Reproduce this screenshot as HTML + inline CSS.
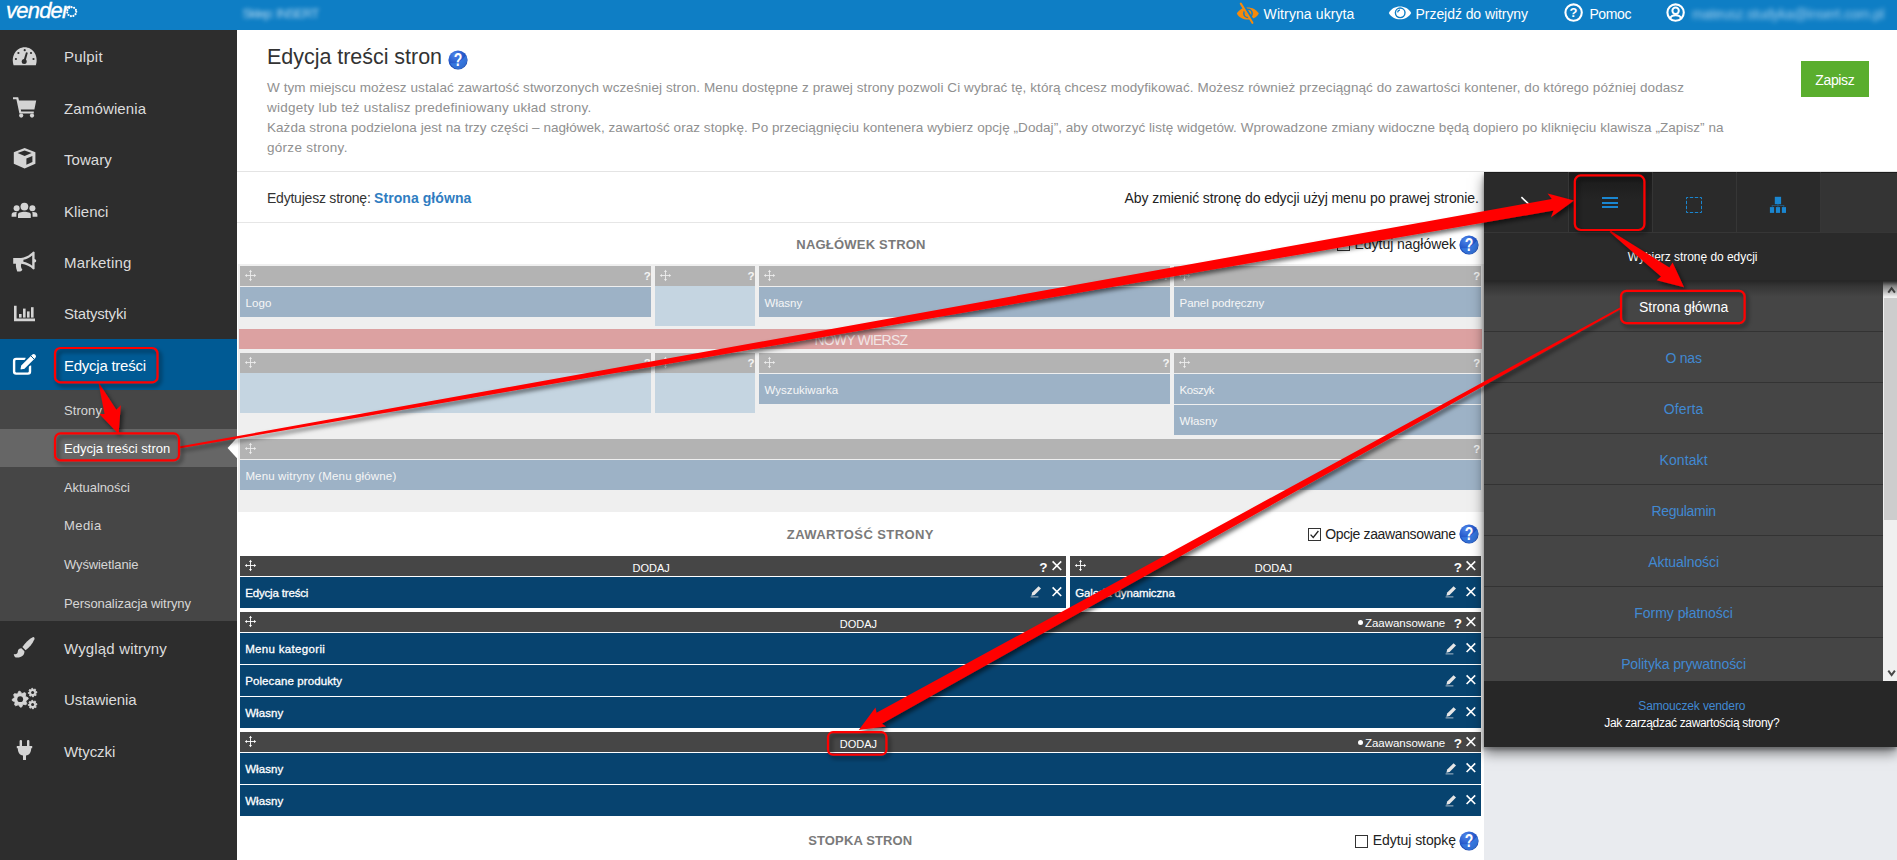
<!DOCTYPE html>
<html lang="pl"><head><meta charset="utf-8"><title>Edycja treści stron - vendero</title>
<style>
html,body{margin:0;padding:0;}
body{width:1897px;height:860px;overflow:hidden;position:relative;background:#fff;font-family:"Liberation Sans", sans-serif;}
.t{position:absolute;white-space:nowrap;line-height:1em;}
.r{position:absolute;}
svg{position:absolute;overflow:visible;}
.sb{-webkit-text-stroke:0.3px #fff;}
</style></head><body>

<div class="r" style="left:1484px;top:172px;width:413.00px;height:688.00px;background:#e9ebef;"></div>
<div class="r" style="left:237px;top:30px;width:1660.00px;height:141.00px;background:#fff;border-bottom:1px solid #e4e4e4;"></div>
<div class="r" style="left:0px;top:0px;width:1897.00px;height:30.00px;background:#0e7ec5;"></div>
<span class="t" style="top:-0.32px;font-size:22px;color:#fff;letter-spacing:-0.8px;font-style:italic;left:6.1px;-webkit-text-stroke:0.35px #fff;">vender</span>
<svg style="left:64px;top:4px" width="16" height="16" viewBox="0 0 16 16"><circle cx="7.7" cy="7.7" r="4.55" fill="none" stroke="#fff" stroke-width="2.15" stroke-linecap="round" stroke-dasharray="0 2.599"/></svg>
<span class="t" style="top:7.40px;font-size:13px;color:#d4e9f7;letter-spacing:-0.861px;left:242.5px;filter:blur(2.2px);opacity:.8;">Sklep: INSERT</span>
<svg style="left:1236px;top:2px" width="24" height="22" viewBox="0 0 24 22">
<path d="M0.8 11.6 C5 3.4 18.4 3.4 22.8 11.6 C18.4 19.6 5 19.6 0.8 11.6 Z" fill="#f58a0b"/>
<circle cx="12" cy="11.4" r="4.9" fill="#0e7ec5"/><circle cx="12" cy="11.4" r="3.4" fill="#f58a0b"/><path d="M9.8 11 A2.4 2.4 0 0 1 11.8 8.9" fill="none" stroke="#0e7ec5" stroke-width="1.1"/>
<path d="M6.6 2.4 L17.8 21" stroke="#0e7ec5" stroke-width="3.6" /><path d="M4.8 1.6 L16.4 20.8" stroke="#f58a0b" stroke-width="2.1" stroke-linecap="round"/></svg>
<span class="t" style="top:7.15px;font-size:14px;color:#fff;letter-spacing:0.102px;left:1263.6px;">Witryna ukryta</span>
<svg style="left:1388px;top:5px" width="24" height="16" viewBox="0 0 24 16">
<path d="M0.8 8 C5.2 -0.6 18.8 -0.6 23.2 8 C18.8 16.4 5.2 16.4 0.8 8 Z" fill="#fff"/>
<circle cx="12.2" cy="7.8" r="5.5" fill="#0e7ec5"/><circle cx="12.2" cy="7.8" r="4.1" fill="#fff"/><path d="M9.6 7.4 A2.9 2.9 0 0 1 12 4.8" fill="none" stroke="#0e7ec5" stroke-width="1.3"/></svg>
<span class="t" style="top:7.15px;font-size:14px;color:#fff;letter-spacing:-0.066px;left:1415.6px;">Przejdź do witryny</span>
<svg style="left:1564px;top:3px" width="20" height="20" viewBox="0 0 20 20"><circle cx="9.6" cy="9.6" r="8.2" fill="none" stroke="#fff" stroke-width="2.1"/>
<text x="9.6" y="14.2" text-anchor="middle" font-family='"Liberation Sans",sans-serif' font-weight="700" font-size="13" fill="#fff">?</text></svg>
<span class="t" style="top:7.15px;font-size:14px;color:#fff;letter-spacing:-0.356px;left:1589.4px;">Pomoc</span>
<svg style="left:1666px;top:3px" width="20" height="20" viewBox="0 0 20 20"><circle cx="9.6" cy="9.6" r="8.2" fill="none" stroke="#fff" stroke-width="2.1"/>
<circle cx="9.6" cy="7.7" r="3.2" fill="none" stroke="#fff" stroke-width="2"/><path d="M4.2 15.4 C5.4 11.2 13.8 11.2 15 15.4" fill="none" stroke="#fff" stroke-width="2.1"/></svg>
<span class="t" style="top:7.15px;font-size:14px;color:#c6e3f6;letter-spacing:-0.228px;left:1692px;filter:blur(2.5px);opacity:.8;">mateusz.studyka@insert.com.pl</span>
<div class="r" style="left:0px;top:30px;width:237.00px;height:830.00px;background:#2d2d2d;"></div>
<div class="r" style="left:0px;top:339px;width:237.00px;height:51.00px;background:#005a94;"></div>
<div class="r" style="left:0px;top:390px;width:237.00px;height:230.50px;background:#464646;"></div>
<div class="r" style="left:0px;top:428.8px;width:237.00px;height:38.20px;background:#666;"></div>
<svg style="left:226px;top:436px" width="12" height="24" viewBox="0 0 12 24"><path d="M11.2 1.6 L1.6 12 L11.2 22.4 Z" fill="#fff"/></svg>
<span class="t" style="top:49.30px;font-size:15px;color:#dcdcdc;letter-spacing:0.211px;left:64px;">Pulpit</span>
<span class="t" style="top:100.73px;font-size:15px;color:#dcdcdc;letter-spacing:0.142px;left:64px;">Zamówienia</span>
<span class="t" style="top:152.16px;font-size:15px;color:#dcdcdc;letter-spacing:0.047px;left:64px;">Towary</span>
<span class="t" style="top:203.59px;font-size:15px;color:#dcdcdc;letter-spacing:0.045px;left:64px;">Klienci</span>
<span class="t" style="top:255.02px;font-size:15px;color:#dcdcdc;letter-spacing:0.182px;left:64px;">Marketing</span>
<span class="t" style="top:306.45px;font-size:15px;color:#dcdcdc;letter-spacing:-0.179px;left:64px;">Statystyki</span>
<span class="t" style="top:357.88px;font-size:15px;color:#fff;letter-spacing:-0.249px;left:64px;">Edycja treści</span>
<span class="t" style="top:640.80px;font-size:15px;color:#dcdcdc;letter-spacing:0.162px;left:64px;">Wygląd witryny</span>
<span class="t" style="top:692.23px;font-size:15px;color:#dcdcdc;letter-spacing:-0.097px;left:64px;">Ustawienia</span>
<span class="t" style="top:743.66px;font-size:15px;color:#dcdcdc;letter-spacing:-0.053px;left:64px;">Wtyczki</span>
<span class="t" style="top:403.60px;font-size:13px;color:#d6d6d6;letter-spacing:0.07px;left:64px;">Strony</span>
<span class="t" style="top:442.20px;font-size:13px;color:#fff;left:64px;">Edycja treści stron</span>
<span class="t" style="top:480.80px;font-size:13px;color:#d6d6d6;letter-spacing:-0.071px;left:64px;">Aktualności</span>
<span class="t" style="top:519.40px;font-size:13px;color:#d6d6d6;letter-spacing:0.436px;left:64px;">Media</span>
<span class="t" style="top:558.00px;font-size:13px;color:#d6d6d6;letter-spacing:-0.112px;left:64px;">Wyświetlanie</span>
<span class="t" style="top:596.60px;font-size:13px;color:#d6d6d6;letter-spacing:-0.078px;left:64px;">Personalizacja witryny</span>
<svg style="left:12px;top:46px" width="26" height="20" viewBox="0 0 26 20"><path d="M1.6 19.2 C-1.5 10 4.5 1.2 12.7 1.2 C20.9 1.2 26.9 10 23.8 19.2 Z" fill="#d4d4d4"/>
<g fill="#2d2d2d"><circle cx="12.7" cy="4.2" r="1.1"/><circle cx="6.4" cy="7" r="1.1"/><circle cx="19" cy="7" r="1.1"/><circle cx="3.9" cy="13" r="1.1"/><circle cx="21.5" cy="13" r="1.1"/><circle cx="12.2" cy="15.4" r="2.5"/><path d="M14 6.2 L15.8 6.8 L13.5 15.2 L11.5 14.6 Z"/></g></svg>
<svg style="left:12px;top:96px" width="26" height="23" viewBox="0 0 26 23"><g fill="#d4d4d4"><path d="M1 1.2 H6.2 L7 4.4 H24.2 L22.4 13.6 H8.8 L9.2 15.4 H21.8 V17.4 H7.4 L4.4 3.2 H1 Z"/><circle cx="9.2" cy="19.6" r="2.1"/><circle cx="20" cy="19.6" r="2.1"/></g></svg>
<svg style="left:13px;top:147px" width="24" height="23" viewBox="0 0 24 23"><path d="M11.6 1 L22.4 5.2 V16.8 L11.6 21.6 L0.8 16.8 V5.2 Z" fill="#d4d4d4"/>
<path d="M11.6 3.4 L18.6 6 L11.6 9 L4.6 6 Z" fill="#2d2d2d"/><path d="M13.4 11.6 L19.4 9 V15 L13.4 17.8 Z" fill="#2d2d2d"/></svg>
<svg style="left:11px;top:202px" width="28" height="17" viewBox="0 0 28 17"><g fill="#d4d4d4"><circle cx="13.4" cy="4.6" r="3.9"/><circle cx="5.6" cy="6.3" r="3"/><circle cx="21.4" cy="6.3" r="3"/>
<path d="M7 16 V12.4 C7 8.8 19.8 8.8 19.8 12.4 V16 Z"/><path d="M0.6 14.8 V12.6 C0.6 10.4 3 9.8 5.8 10 C5.4 11 5.4 12 5.4 14.8 Z"/><path d="M26.4 14.8 V12.6 C26.4 10.4 24 9.8 21.2 10 C21.6 11 21.6 12 21.6 14.8 Z"/></g></svg>
<svg style="left:12px;top:250px" width="26" height="24" viewBox="0 0 26 24"><g fill="#d4d4d4"><path d="M1.2 8 H9 C14 7.4 18.4 4.6 21.2 1.6 L22.6 2 V9 C23.6 9.2 24.2 10 24.2 10.8 C24.2 11.8 23.6 12.4 22.6 12.6 V19 L21.2 19.4 C18.4 16.6 14 14.2 9.4 13.8 C8.6 15.4 8.8 17.6 10.4 19.8 C9.6 21.6 7.2 21.8 5.2 21.4 C4.4 19 3.6 16.6 4 13.8 H1.2 Z"/></g>
<path d="M20.2 5.4 C17.6 7.6 14.6 9.2 11.4 9.8 V11.8 C14.6 12.4 17.6 13.8 20.2 15.8 Z" fill="#2d2d2d"/></svg>
<svg style="left:13px;top:305px" width="24" height="18" viewBox="0 0 24 18"><g fill="#d4d4d4"><path d="M1 0.8 H3.6 V13.6 H22 V16.2 H1 Z"/><rect x="6" y="9" width="2.6" height="3.6"/><rect x="10" y="3.6" width="2.6" height="9"/><rect x="14" y="6.4" width="2.6" height="6.2"/><rect x="18" y="2.2" width="2.6" height="10.4"/></g></svg>
<svg style="left:12px;top:353px" width="26" height="23" viewBox="0 0 26 23"><path d="M13.6 5.9 H4.1 Q2.1 5.9 2.1 7.9 V18.6 Q2.1 20.6 4.1 20.6 H16 Q18 20.6 18 18.6 V12.4" fill="none" stroke="#fff" stroke-width="2.4"/>
<path d="M7.4 17.6 L8.4 12.2 L19.5 1.1 A3.1 3.1 0 0 1 23.9 5.5 L12.8 16.6 Z" fill="#fff" stroke="#005a94" stroke-width="1.7" stroke-linejoin="round"/>
<path d="M18.3 2.3 L22.7 6.7" stroke="#005a94" stroke-width="1"/></svg>
<svg style="left:13px;top:636px" width="23" height="23" viewBox="0 0 23 23"><g fill="#d4d4d4"><path d="M20.2 1 C21.4 1.2 21.8 2.2 21.4 3.2 C19.6 7.6 16.2 11.6 12.6 14.2 L9.4 11 C12.2 7.2 16 3 20.2 1 Z"/>
<path d="M8.4 12.2 L11.4 15.2 C11.8 19.4 7.6 22.2 2.8 21.4 C1.6 21 1 19.6 0.8 18 C3.4 18.6 4.6 17.6 4.8 15.4 C5 13.4 6.6 12.2 8.4 12.2 Z"/></g></svg>
<svg style="left:11px;top:687px" width="28" height="24" viewBox="0 0 28 24"><polygon points="17.07,10.76 17.20,12.07 15.01,13.71 14.87,14.17 15.78,16.75 14.95,17.77 12.23,17.38 11.82,17.60 10.64,20.07 9.33,20.20 7.69,18.01 7.23,17.87 4.65,18.78 3.63,17.95 4.02,15.23 3.80,14.82 1.33,13.64 1.20,12.33 3.39,10.69 3.53,10.23 2.62,7.65 3.45,6.63 6.17,7.02 6.58,6.80 7.76,4.33 9.07,4.20 10.71,6.39 11.17,6.53 13.75,5.62 14.77,6.45 14.38,9.17 14.60,9.58" fill="#d4d4d4" stroke="#d4d4d4" stroke-width="0.8" stroke-linejoin="round"/><circle cx="9.2" cy="12.2" r="2.9" fill="#2d2d2d"/><polygon points="25.93,4.81 26.00,5.53 24.70,6.41 24.62,6.65 25.22,8.10 24.76,8.66 23.22,8.36 23.00,8.48 22.39,9.93 21.67,10.00 20.79,8.70 20.55,8.62 19.10,9.22 18.54,8.76 18.84,7.22 18.72,7.00 17.27,6.39 17.20,5.67 18.50,4.79 18.58,4.55 17.98,3.10 18.44,2.54 19.98,2.84 20.20,2.72 20.81,1.27 21.53,1.20 22.41,2.50 22.65,2.58 24.10,1.98 24.66,2.44 24.36,3.98 24.48,4.20" fill="#d4d4d4" stroke="#d4d4d4" stroke-width="0.8" stroke-linejoin="round"/><circle cx="21.6" cy="5.6" r="1.5" fill="#2d2d2d"/><polygon points="25.93,16.81 26.00,17.53 24.70,18.41 24.62,18.65 25.22,20.10 24.76,20.66 23.22,20.36 23.00,20.48 22.39,21.93 21.67,22.00 20.79,20.70 20.55,20.62 19.10,21.22 18.54,20.76 18.84,19.22 18.72,19.00 17.27,18.39 17.20,17.67 18.50,16.79 18.58,16.55 17.98,15.10 18.44,14.54 19.98,14.84 20.20,14.72 20.81,13.27 21.53,13.20 22.41,14.50 22.65,14.58 24.10,13.98 24.66,14.44 24.36,15.98 24.48,16.20" fill="#d4d4d4" stroke="#d4d4d4" stroke-width="0.8" stroke-linejoin="round"/><circle cx="21.6" cy="17.6" r="1.5" fill="#2d2d2d"/></svg>
<svg style="left:16px;top:739px" width="18" height="22" viewBox="0 0 18 22"><g fill="#d4d4d4"><rect x="3.6" y="1" width="2.4" height="7" rx="1"/><rect x="11" y="1" width="2.4" height="7" rx="1"/>
<path d="M0.8 7 H16.2 V9.2 H15.2 C15.2 13.4 13.4 16 10 16.6 V21 H7 V16.6 C3.6 16 1.8 13.4 1.8 9.2 H0.8 Z"/></g></svg>
<span class="t" style="top:47.40px;font-size:21.5px;color:#333;letter-spacing:-0.035px;left:267px;">Edycja treści stron</span>
<svg style="left:447.5px;top:50.4px" width="20" height="20" viewBox="0 0 20 20"><defs><radialGradient id="hg1" cx="35%" cy="25%" r="85%"><stop offset="0" stop-color="#4f86ea"/><stop offset="0.55" stop-color="#2356c8"/><stop offset="1" stop-color="#163b9c"/></radialGradient></defs>
<circle cx="10" cy="10" r="9.6" fill="url(#hg1)"/><path d="M2.2 13.1 C7.6 14.3 14.2 11.3 18 5.3 C20.4 9.3 19.2 15.7 13.6 18.6 C9.2 20.3 4.2 18.1 2.2 13.1 Z" fill="#4a97f5" opacity="0.5"/>
<text transform="translate(10.1 16.3) scale(0.8 1)" x="0" y="0" text-anchor="middle" font-family='"Liberation Sans",sans-serif' font-weight="700" font-size="17.5" fill="#fff">?</text></svg>
<span class="t" style="top:80.67px;font-size:13.5px;color:#909090;letter-spacing:0.083px;left:267px;">W tym miejscu możesz ustalać zawartość stworzonych wcześniej stron. Menu dostępne z prawej strony pozwoli Ci wybrać tę, którą chcesz modyfikować. Możesz również przeciągnąć do zawartości kontener, do którego później dodasz</span>
<span class="t" style="top:100.70px;font-size:13.5px;color:#909090;letter-spacing:0.237px;left:267px;">widgety lub też ustalisz predefiniowany układ strony.</span>
<span class="t" style="top:120.73px;font-size:13.5px;color:#909090;letter-spacing:0.055px;left:267px;">Każda strona podzielona jest na trzy części – nagłówek, zawartość oraz stopkę. Po przeciągnięciu kontenera wybierz opcję „Dodaj”, aby otworzyć listę widgetów. Wprowadzone zmiany widoczne będą dopiero po kliknięciu klawisza „Zapisz” na</span>
<span class="t" style="top:140.76px;font-size:13.5px;color:#909090;letter-spacing:0.281px;left:267px;">górze strony.</span>
<div class="r" style="left:1801px;top:61px;width:67.50px;height:36.00px;background:#5aae2e;"></div>
<span class="t" style="top:73.15px;font-size:14px;color:#fff;letter-spacing:-0.372px;left:1534.8px;width:600px;text-align:center;">Zapisz</span>
<div class="r" style="left:237px;top:221.5px;width:1247.00px;height:1.00px;background:#e6e6e6;"></div>
<span class="t" style="top:191.35px;font-size:14px;color:#333;letter-spacing:-0.223px;left:267px;">Edytujesz stronę:</span>
<span class="t" style="top:191.35px;font-size:14px;color:#2f7dc1;font-weight:700;letter-spacing:0.073px;left:374px;">Strona główna</span>
<span class="t" style="top:191.35px;font-size:14px;color:#222;letter-spacing:-0.093px;right:418.20000000000005px;">Aby zmienić stronę do edycji użyj menu po prawej stronie.</span>
<span class="t" style="top:237.50px;font-size:13px;color:#7a7a7a;font-weight:700;letter-spacing:0.215px;left:561px;width:600px;text-align:center;">NAGŁÓWEK STRON</span>
<div class="r" style="left:1337px;top:238px;width:11px;height:11px;border:1px solid #333;background:#fff"></div>
<span class="t" style="top:237.35px;font-size:14px;color:#222;letter-spacing:-0.03px;left:1354.5px;">Edytuj nagłówek</span>
<svg style="left:1458.5px;top:234.5px" width="20" height="20" viewBox="0 0 20 20"><defs><radialGradient id="hg2" cx="35%" cy="25%" r="85%"><stop offset="0" stop-color="#4f86ea"/><stop offset="0.55" stop-color="#2356c8"/><stop offset="1" stop-color="#163b9c"/></radialGradient></defs>
<circle cx="10" cy="10" r="9.6" fill="url(#hg2)"/><path d="M2.2 13.1 C7.6 14.3 14.2 11.3 18 5.3 C20.4 9.3 19.2 15.7 13.6 18.6 C9.2 20.3 4.2 18.1 2.2 13.1 Z" fill="#4a97f5" opacity="0.5"/>
<text transform="translate(10.1 16.3) scale(0.8 1)" x="0" y="0" text-anchor="middle" font-family='"Liberation Sans",sans-serif' font-weight="700" font-size="17.5" fill="#fff">?</text></svg>
<div class="r" style="left:238px;top:264px;width:1246.00px;height:248.00px;background:#efefef;"></div>
<div class="r" style="left:240px;top:266px;width:411.30px;height:19.80px;background:#b3b3b3;"></div>
<svg style="left:243.9px;top:268.79999999999995px" width="13" height="13" viewBox="0 0 13 13"><g stroke="#ececec" stroke-width="0.9" fill="#ececec"><path d="M6.5 2 V11 M2 6.5 H11" fill="none"/><path d="M6.5 0.8 L8 3 H5 Z M6.5 12.2 L8 10 H5 Z M0.8 6.5 L3 5 V8 Z M12.2 6.5 L10 5 V8 Z" stroke="none"/></g></svg>
<span class="t" style="top:270.77px;font-size:11.5px;color:#f3f3f3;font-weight:700;right:1246.3000000000002px;">?</span>
<div class="r" style="left:655.4px;top:266px;width:99.80px;height:19.80px;background:#b3b3b3;"></div>
<svg style="left:659.3px;top:268.79999999999995px" width="13" height="13" viewBox="0 0 13 13"><g stroke="#ececec" stroke-width="0.9" fill="#ececec"><path d="M6.5 2 V11 M2 6.5 H11" fill="none"/><path d="M6.5 0.8 L8 3 H5 Z M6.5 12.2 L8 10 H5 Z M0.8 6.5 L3 5 V8 Z M12.2 6.5 L10 5 V8 Z" stroke="none"/></g></svg>
<span class="t" style="top:270.77px;font-size:11.5px;color:#f3f3f3;font-weight:700;right:1142.4px;">?</span>
<div class="r" style="left:759.2px;top:266px;width:411.00px;height:19.80px;background:#b3b3b3;"></div>
<svg style="left:763.1px;top:268.79999999999995px" width="13" height="13" viewBox="0 0 13 13"><g stroke="#ececec" stroke-width="0.9" fill="#ececec"><path d="M6.5 2 V11 M2 6.5 H11" fill="none"/><path d="M6.5 0.8 L8 3 H5 Z M6.5 12.2 L8 10 H5 Z M0.8 6.5 L3 5 V8 Z M12.2 6.5 L10 5 V8 Z" stroke="none"/></g></svg>
<span class="t" style="top:270.77px;font-size:11.5px;color:#f3f3f3;font-weight:700;right:727.3999999999999px;">?</span>
<div class="r" style="left:1174.2px;top:266px;width:306.60px;height:19.80px;background:#b3b3b3;"></div>
<svg style="left:1178.1000000000001px;top:268.79999999999995px" width="13" height="13" viewBox="0 0 13 13"><g stroke="#ececec" stroke-width="0.9" fill="#ececec"><path d="M6.5 2 V11 M2 6.5 H11" fill="none"/><path d="M6.5 0.8 L8 3 H5 Z M6.5 12.2 L8 10 H5 Z M0.8 6.5 L3 5 V8 Z M12.2 6.5 L10 5 V8 Z" stroke="none"/></g></svg>
<span class="t" style="top:270.77px;font-size:11.5px;color:#f3f3f3;font-weight:700;right:416.79999999999995px;">?</span>
<div class="r" style="left:240px;top:287.2px;width:411.30px;height:29.70px;background:#9db2c6;"></div>
<span class="t" style="top:297.92px;font-size:11.5px;color:#f6f6f6;letter-spacing:0.152px;left:245.4px;">Logo</span>
<div class="r" style="left:655.4px;top:285.8px;width:99.80px;height:39.80px;background:#c5d5e1;"></div>
<div class="r" style="left:759.2px;top:287.2px;width:411.00px;height:29.70px;background:#9db2c6;"></div>
<span class="t" style="top:297.92px;font-size:11.5px;color:#f6f6f6;letter-spacing:-0.017px;left:764.6px;">Własny</span>
<div class="r" style="left:1174.2px;top:287.2px;width:306.60px;height:29.70px;background:#9db2c6;"></div>
<span class="t" style="top:297.92px;font-size:11.5px;color:#f6f6f6;letter-spacing:-0.078px;left:1179.6000000000001px;">Panel podręczny</span>
<div class="r" style="left:239px;top:329px;width:1243.00px;height:20.00px;background:#dca1a1;"></div>
<span class="t" style="top:332.75px;font-size:14px;color:#f1e6e6;letter-spacing:-0.804px;left:560.8px;width:600px;text-align:center;">NOWY WIERSZ</span>
<div class="r" style="left:240px;top:353px;width:411.30px;height:19.80px;background:#b3b3b3;"></div>
<svg style="left:243.9px;top:355.79999999999995px" width="13" height="13" viewBox="0 0 13 13"><g stroke="#ececec" stroke-width="0.9" fill="#ececec"><path d="M6.5 2 V11 M2 6.5 H11" fill="none"/><path d="M6.5 0.8 L8 3 H5 Z M6.5 12.2 L8 10 H5 Z M0.8 6.5 L3 5 V8 Z M12.2 6.5 L10 5 V8 Z" stroke="none"/></g></svg>
<span class="t" style="top:357.77px;font-size:11.5px;color:#f3f3f3;font-weight:700;right:1246.3000000000002px;">?</span>
<div class="r" style="left:655.4px;top:353px;width:99.80px;height:19.80px;background:#b3b3b3;"></div>
<svg style="left:659.3px;top:355.79999999999995px" width="13" height="13" viewBox="0 0 13 13"><g stroke="#ececec" stroke-width="0.9" fill="#ececec"><path d="M6.5 2 V11 M2 6.5 H11" fill="none"/><path d="M6.5 0.8 L8 3 H5 Z M6.5 12.2 L8 10 H5 Z M0.8 6.5 L3 5 V8 Z M12.2 6.5 L10 5 V8 Z" stroke="none"/></g></svg>
<span class="t" style="top:357.77px;font-size:11.5px;color:#f3f3f3;font-weight:700;right:1142.4px;">?</span>
<div class="r" style="left:759.2px;top:353px;width:411.00px;height:19.80px;background:#b3b3b3;"></div>
<svg style="left:763.1px;top:355.79999999999995px" width="13" height="13" viewBox="0 0 13 13"><g stroke="#ececec" stroke-width="0.9" fill="#ececec"><path d="M6.5 2 V11 M2 6.5 H11" fill="none"/><path d="M6.5 0.8 L8 3 H5 Z M6.5 12.2 L8 10 H5 Z M0.8 6.5 L3 5 V8 Z M12.2 6.5 L10 5 V8 Z" stroke="none"/></g></svg>
<span class="t" style="top:357.77px;font-size:11.5px;color:#f3f3f3;font-weight:700;right:727.3999999999999px;">?</span>
<div class="r" style="left:1174.2px;top:353px;width:306.60px;height:19.80px;background:#b3b3b3;"></div>
<svg style="left:1178.1000000000001px;top:355.79999999999995px" width="13" height="13" viewBox="0 0 13 13"><g stroke="#ececec" stroke-width="0.9" fill="#ececec"><path d="M6.5 2 V11 M2 6.5 H11" fill="none"/><path d="M6.5 0.8 L8 3 H5 Z M6.5 12.2 L8 10 H5 Z M0.8 6.5 L3 5 V8 Z M12.2 6.5 L10 5 V8 Z" stroke="none"/></g></svg>
<span class="t" style="top:357.77px;font-size:11.5px;color:#f3f3f3;font-weight:700;right:416.79999999999995px;">?</span>
<div class="r" style="left:240px;top:372.8px;width:411.30px;height:40.20px;background:#c5d5e1;"></div>
<div class="r" style="left:655.4px;top:372.8px;width:99.80px;height:40.20px;background:#c5d5e1;"></div>
<div class="r" style="left:759.2px;top:374.3px;width:411.00px;height:29.70px;background:#9db2c6;"></div>
<span class="t" style="top:385.02px;font-size:11.5px;color:#f6f6f6;letter-spacing:0.009px;left:764.6px;">Wyszukiwarka</span>
<div class="r" style="left:1174.2px;top:374.3px;width:306.60px;height:29.70px;background:#9db2c6;"></div>
<span class="t" style="top:385.02px;font-size:11.5px;color:#f6f6f6;letter-spacing:-0.446px;left:1179.6000000000001px;">Koszyk</span>
<div class="r" style="left:1174.2px;top:405.3px;width:306.60px;height:29.30px;background:#9db2c6;"></div>
<span class="t" style="top:415.82px;font-size:11.5px;color:#f6f6f6;letter-spacing:-0.017px;left:1179.6000000000001px;">Własny</span>
<div class="r" style="left:240px;top:439px;width:1240.80px;height:19.70px;background:#b3b3b3;"></div>
<svg style="left:243.9px;top:441.75px" width="13" height="13" viewBox="0 0 13 13"><g stroke="#ececec" stroke-width="0.9" fill="#ececec"><path d="M6.5 2 V11 M2 6.5 H11" fill="none"/><path d="M6.5 0.8 L8 3 H5 Z M6.5 12.2 L8 10 H5 Z M0.8 6.5 L3 5 V8 Z M12.2 6.5 L10 5 V8 Z" stroke="none"/></g></svg>
<span class="t" style="top:443.72px;font-size:11.5px;color:#f3f3f3;font-weight:700;right:416.79999999999995px;">?</span>
<div class="r" style="left:240px;top:460.2px;width:1240.80px;height:29.80px;background:#9db2c6;"></div>
<span class="t" style="top:470.97px;font-size:11.5px;color:#f6f6f6;letter-spacing:0.153px;left:245.4px;">Menu witryny (Menu główne)</span>
<span class="t" style="top:527.50px;font-size:13px;color:#7a7a7a;font-weight:700;letter-spacing:0.399px;left:560.3px;width:600px;text-align:center;">ZAWARTOŚĆ STRONY</span>
<div class="r" style="left:1308px;top:528px;width:11px;height:11px;border:1px solid #333;background:#fff"></div>
<svg style="left:1308px;top:528px" width="13" height="13" viewBox="0 0 13 13"><path d="M2.6 6.6 L5.2 9.4 L10.4 3" fill="none" stroke="#222" stroke-width="1.3"/></svg>
<span class="t" style="top:527.05px;font-size:14px;color:#222;letter-spacing:-0.366px;left:1325.3px;">Opcje zaawansowane</span>
<svg style="left:1458.6px;top:524.2px" width="20" height="20" viewBox="0 0 20 20"><defs><radialGradient id="hg3" cx="35%" cy="25%" r="85%"><stop offset="0" stop-color="#4f86ea"/><stop offset="0.55" stop-color="#2356c8"/><stop offset="1" stop-color="#163b9c"/></radialGradient></defs>
<circle cx="10" cy="10" r="9.6" fill="url(#hg3)"/><path d="M2.2 13.1 C7.6 14.3 14.2 11.3 18 5.3 C20.4 9.3 19.2 15.7 13.6 18.6 C9.2 20.3 4.2 18.1 2.2 13.1 Z" fill="#4a97f5" opacity="0.5"/>
<text transform="translate(10.1 16.3) scale(0.8 1)" x="0" y="0" text-anchor="middle" font-family='"Liberation Sans",sans-serif' font-weight="700" font-size="17.5" fill="#fff">?</text></svg>
<div class="r" style="left:240px;top:556px;width:826.30px;height:19.60px;background:#464646;"></div>
<svg style="left:243.9px;top:558.9px" width="13" height="13" viewBox="0 0 13 13"><g stroke="#fff" stroke-width="0.9" fill="#fff"><path d="M6.5 2 V11 M2 6.5 H11" fill="none"/><path d="M6.5 0.8 L8 3 H5 Z M6.5 12.2 L8 10 H5 Z M0.8 6.5 L3 5 V8 Z M12.2 6.5 L10 5 V8 Z" stroke="none"/></g></svg>
<span class="t" style="top:562.69px;font-size:11px;color:#fff;letter-spacing:0.004px;left:351.15px;width:600px;text-align:center;">DODAJ</span>
<svg style="left:1050.5px;top:560.0px" width="11" height="11" viewBox="0 0 11 11"><path d="M1.6 1.4 L10.2 10 M10.2 1.4 L1.6 10" stroke="#fff" stroke-width="1.65" fill="none"/></svg>
<span class="t" style="top:561.07px;font-size:13.5px;color:#fff;font-weight:700;left:743.3999999999999px;width:600px;text-align:center;">?</span>
<div class="r" style="left:240px;top:577.2px;width:826.30px;height:30.50px;background:#07436f;"></div>
<span class="t" style="top:587.82px;font-size:11.5px;color:#fff;letter-spacing:-0.168px;left:245.2px;-webkit-text-stroke:0.3px #fff;">Edycja treści</span>
<svg style="left:1050.5px;top:585.95px" width="11" height="11" viewBox="0 0 11 11"><path d="M1.6 1.4 L10.2 10 M10.2 1.4 L1.6 10" stroke="#fff" stroke-width="1.65" fill="none"/></svg>
<svg style="left:1030.3px;top:586.45px" width="12" height="12" viewBox="0 0 12 12"><path d="M2.2 6.6 L8.6 0.2 L11 2.6 L4.6 9 L1.4 9.8 Z" fill="#e6e6e6"/><path d="M0.6 10.9 H8.4" stroke="#b9c6d2" stroke-width="0.9"/></svg>
<div class="r" style="left:1070px;top:556px;width:410.80px;height:19.60px;background:#464646;"></div>
<svg style="left:1073.9px;top:558.9px" width="13" height="13" viewBox="0 0 13 13"><g stroke="#fff" stroke-width="0.9" fill="#fff"><path d="M6.5 2 V11 M2 6.5 H11" fill="none"/><path d="M6.5 0.8 L8 3 H5 Z M6.5 12.2 L8 10 H5 Z M0.8 6.5 L3 5 V8 Z M12.2 6.5 L10 5 V8 Z" stroke="none"/></g></svg>
<span class="t" style="top:562.69px;font-size:11px;color:#fff;letter-spacing:0.004px;left:973.4000000000001px;width:600px;text-align:center;">DODAJ</span>
<svg style="left:1465.0px;top:560.0px" width="11" height="11" viewBox="0 0 11 11"><path d="M1.6 1.4 L10.2 10 M10.2 1.4 L1.6 10" stroke="#fff" stroke-width="1.65" fill="none"/></svg>
<span class="t" style="top:561.07px;font-size:13.5px;color:#fff;font-weight:700;left:1157.8999999999999px;width:600px;text-align:center;">?</span>
<div class="r" style="left:1070px;top:577.2px;width:410.80px;height:30.50px;background:#07436f;"></div>
<span class="t" style="top:587.82px;font-size:11.5px;color:#fff;letter-spacing:-0.119px;left:1075.2px;-webkit-text-stroke:0.3px #fff;">Galeria dynamiczna</span>
<svg style="left:1465.0px;top:585.95px" width="11" height="11" viewBox="0 0 11 11"><path d="M1.6 1.4 L10.2 10 M10.2 1.4 L1.6 10" stroke="#fff" stroke-width="1.65" fill="none"/></svg>
<svg style="left:1444.8px;top:586.45px" width="12" height="12" viewBox="0 0 12 12"><path d="M2.2 6.6 L8.6 0.2 L11 2.6 L4.6 9 L1.4 9.8 Z" fill="#e6e6e6"/><path d="M0.6 10.9 H8.4" stroke="#b9c6d2" stroke-width="0.9"/></svg>
<div class="r" style="left:240px;top:612.4px;width:1240.80px;height:19.40px;background:#464646;"></div>
<svg style="left:243.9px;top:615.1999999999999px" width="13" height="13" viewBox="0 0 13 13"><g stroke="#fff" stroke-width="0.9" fill="#fff"><path d="M6.5 2 V11 M2 6.5 H11" fill="none"/><path d="M6.5 0.8 L8 3 H5 Z M6.5 12.2 L8 10 H5 Z M0.8 6.5 L3 5 V8 Z M12.2 6.5 L10 5 V8 Z" stroke="none"/></g></svg>
<span class="t" style="top:618.89px;font-size:11px;color:#fff;letter-spacing:0.004px;left:558.4px;width:600px;text-align:center;">DODAJ</span>
<svg style="left:1465.0px;top:616.3px" width="11" height="11" viewBox="0 0 11 11"><path d="M1.6 1.4 L10.2 10 M10.2 1.4 L1.6 10" stroke="#fff" stroke-width="1.65" fill="none"/></svg>
<span class="t" style="top:617.27px;font-size:13.5px;color:#fff;font-weight:700;left:1157.8999999999999px;width:600px;text-align:center;">?</span>
<span class="t" style="top:618.47px;font-size:11.5px;color:#fff;letter-spacing:-0.022px;right:451.79999999999995px;">Zaawansowane</span>
<div class="r" style="left:1357.6px;top:620.3px;width:5px;height:5px;border-radius:50%;background:#fff"></div>
<div class="r" style="left:240px;top:633.3px;width:1240.80px;height:30.50px;background:#07436f;"></div>
<span class="t" style="top:643.92px;font-size:11.5px;color:#fff;letter-spacing:0.326px;left:245.2px;-webkit-text-stroke:0.3px #fff;">Menu kategorii</span>
<svg style="left:1465.0px;top:642.05px" width="11" height="11" viewBox="0 0 11 11"><path d="M1.6 1.4 L10.2 10 M10.2 1.4 L1.6 10" stroke="#fff" stroke-width="1.65" fill="none"/></svg>
<svg style="left:1444.8px;top:642.55px" width="12" height="12" viewBox="0 0 12 12"><path d="M2.2 6.6 L8.6 0.2 L11 2.6 L4.6 9 L1.4 9.8 Z" fill="#e6e6e6"/><path d="M0.6 10.9 H8.4" stroke="#b9c6d2" stroke-width="0.9"/></svg>
<div class="r" style="left:240px;top:665.2px;width:1240.80px;height:30.80px;background:#07436f;"></div>
<span class="t" style="top:675.97px;font-size:11.5px;color:#fff;letter-spacing:0.102px;left:245.2px;-webkit-text-stroke:0.3px #fff;">Polecane produkty</span>
<svg style="left:1465.0px;top:674.1px" width="11" height="11" viewBox="0 0 11 11"><path d="M1.6 1.4 L10.2 10 M10.2 1.4 L1.6 10" stroke="#fff" stroke-width="1.65" fill="none"/></svg>
<svg style="left:1444.8px;top:674.6px" width="12" height="12" viewBox="0 0 12 12"><path d="M2.2 6.6 L8.6 0.2 L11 2.6 L4.6 9 L1.4 9.8 Z" fill="#e6e6e6"/><path d="M0.6 10.9 H8.4" stroke="#b9c6d2" stroke-width="0.9"/></svg>
<div class="r" style="left:240px;top:697.3px;width:1240.80px;height:30.50px;background:#07436f;"></div>
<span class="t" style="top:707.92px;font-size:11.5px;color:#fff;letter-spacing:0.049px;left:245.2px;-webkit-text-stroke:0.3px #fff;">Własny</span>
<svg style="left:1465.0px;top:706.05px" width="11" height="11" viewBox="0 0 11 11"><path d="M1.6 1.4 L10.2 10 M10.2 1.4 L1.6 10" stroke="#fff" stroke-width="1.65" fill="none"/></svg>
<svg style="left:1444.8px;top:706.55px" width="12" height="12" viewBox="0 0 12 12"><path d="M2.2 6.6 L8.6 0.2 L11 2.6 L4.6 9 L1.4 9.8 Z" fill="#e6e6e6"/><path d="M0.6 10.9 H8.4" stroke="#b9c6d2" stroke-width="0.9"/></svg>
<div class="r" style="left:240px;top:732.3px;width:1240.80px;height:19.40px;background:#464646;"></div>
<svg style="left:243.9px;top:735.1px" width="13" height="13" viewBox="0 0 13 13"><g stroke="#fff" stroke-width="0.9" fill="#fff"><path d="M6.5 2 V11 M2 6.5 H11" fill="none"/><path d="M6.5 0.8 L8 3 H5 Z M6.5 12.2 L8 10 H5 Z M0.8 6.5 L3 5 V8 Z M12.2 6.5 L10 5 V8 Z" stroke="none"/></g></svg>
<span class="t" style="top:738.79px;font-size:11px;color:#fff;letter-spacing:0.004px;left:558.4px;width:600px;text-align:center;">DODAJ</span>
<svg style="left:1465.0px;top:736.2px" width="11" height="11" viewBox="0 0 11 11"><path d="M1.6 1.4 L10.2 10 M10.2 1.4 L1.6 10" stroke="#fff" stroke-width="1.65" fill="none"/></svg>
<span class="t" style="top:737.17px;font-size:13.5px;color:#fff;font-weight:700;left:1157.8999999999999px;width:600px;text-align:center;">?</span>
<span class="t" style="top:738.37px;font-size:11.5px;color:#fff;letter-spacing:-0.022px;right:451.79999999999995px;">Zaawansowane</span>
<div class="r" style="left:1357.6px;top:740.2px;width:5px;height:5px;border-radius:50%;background:#fff"></div>
<div class="r" style="left:240px;top:753.3px;width:1240.80px;height:30.70px;background:#07436f;"></div>
<span class="t" style="top:764.02px;font-size:11.5px;color:#fff;letter-spacing:0.049px;left:245.2px;-webkit-text-stroke:0.3px #fff;">Własny</span>
<svg style="left:1465.0px;top:762.15px" width="11" height="11" viewBox="0 0 11 11"><path d="M1.6 1.4 L10.2 10 M10.2 1.4 L1.6 10" stroke="#fff" stroke-width="1.65" fill="none"/></svg>
<svg style="left:1444.8px;top:762.65px" width="12" height="12" viewBox="0 0 12 12"><path d="M2.2 6.6 L8.6 0.2 L11 2.6 L4.6 9 L1.4 9.8 Z" fill="#e6e6e6"/><path d="M0.6 10.9 H8.4" stroke="#b9c6d2" stroke-width="0.9"/></svg>
<div class="r" style="left:240px;top:785.4px;width:1240.80px;height:30.40px;background:#07436f;"></div>
<span class="t" style="top:795.97px;font-size:11.5px;color:#fff;letter-spacing:0.049px;left:245.2px;-webkit-text-stroke:0.3px #fff;">Własny</span>
<svg style="left:1465.0px;top:794.0999999999999px" width="11" height="11" viewBox="0 0 11 11"><path d="M1.6 1.4 L10.2 10 M10.2 1.4 L1.6 10" stroke="#fff" stroke-width="1.65" fill="none"/></svg>
<svg style="left:1444.8px;top:794.5999999999999px" width="12" height="12" viewBox="0 0 12 12"><path d="M2.2 6.6 L8.6 0.2 L11 2.6 L4.6 9 L1.4 9.8 Z" fill="#e6e6e6"/><path d="M0.6 10.9 H8.4" stroke="#b9c6d2" stroke-width="0.9"/></svg>
<span class="t" style="top:833.60px;font-size:13px;color:#7a7a7a;font-weight:700;letter-spacing:0.135px;left:560.3px;width:600px;text-align:center;">STOPKA STRON</span>
<div class="r" style="left:1355px;top:834.5px;width:11px;height:11px;border:1px solid #333;background:#fff"></div>
<span class="t" style="top:833.35px;font-size:14px;color:#222;letter-spacing:-0.066px;left:1372.8px;">Edytuj stopkę</span>
<svg style="left:1458.5px;top:831px" width="20" height="20" viewBox="0 0 20 20"><defs><radialGradient id="hg4" cx="35%" cy="25%" r="85%"><stop offset="0" stop-color="#4f86ea"/><stop offset="0.55" stop-color="#2356c8"/><stop offset="1" stop-color="#163b9c"/></radialGradient></defs>
<circle cx="10" cy="10" r="9.6" fill="url(#hg4)"/><path d="M2.2 13.1 C7.6 14.3 14.2 11.3 18 5.3 C20.4 9.3 19.2 15.7 13.6 18.6 C9.2 20.3 4.2 18.1 2.2 13.1 Z" fill="#4a97f5" opacity="0.5"/>
<text transform="translate(10.1 16.3) scale(0.8 1)" x="0" y="0" text-anchor="middle" font-family='"Liberation Sans",sans-serif' font-weight="700" font-size="17.5" fill="#fff">?</text></svg>
<div class="r" style="left:1464px;top:172px;width:433px;height:620px;overflow:hidden"><div class="r" style="left:20px;top:0;width:413px;height:575px;background:#2a2a2a;box-shadow:0 6px 12px rgba(0,0,0,.5), -1px 3px 3px rgba(0,0,0,.22);"></div></div>
<div class="r" style="left:1568px;top:172px;width:84.00px;height:60.00px;background:linear-gradient(#191919,#242424 45%);"></div>
<div class="r" style="left:1820.5px;top:172px;width:76.50px;height:60.00px;background:#343434;"></div>
<div class="r" style="left:1484px;top:172px;width:413.00px;height:1.00px;background:#1c1c1c;"></div>
<div class="r" style="left:1567.5px;top:172px;width:1.00px;height:60.00px;background:#363636;"></div>
<div class="r" style="left:1651.8px;top:172px;width:1.00px;height:60.00px;background:#363636;"></div>
<div class="r" style="left:1736px;top:172px;width:1.00px;height:60.00px;background:#363636;"></div>
<div class="r" style="left:1820px;top:172px;width:1.00px;height:60.00px;background:#363636;"></div>
<div class="r" style="left:1484px;top:232px;width:413.00px;height:1.00px;background:#363636;"></div>
<svg style="left:1519px;top:194px" width="12" height="18" viewBox="0 0 12 18"><path d="M2.4 3.2 L9.6 10 L2.4 16.8" fill="none" stroke="#fff" stroke-width="1.6"/></svg>
<div class="r" style="left:1602px;top:197.2px;width:16.00px;height:2.00px;background:#1a86d0;"></div>
<div class="r" style="left:1602px;top:201.8px;width:16.00px;height:2.00px;background:#1a86d0;"></div>
<div class="r" style="left:1602px;top:206.4px;width:16.00px;height:2.00px;background:#1a86d0;"></div>
<svg style="left:1685px;top:196px" width="18" height="18" viewBox="0 0 18 18"><rect x="1.5" y="1.5" width="15" height="15" fill="none" stroke="#1a86d0" stroke-width="1" stroke-dasharray="3.4 1.6" stroke-dashoffset="1.7"/></svg>
<svg style="left:1769px;top:196px" width="18" height="18" viewBox="0 0 18 18"><g fill="#1a86d0"><rect x="5.8" y="0.8" width="6.3" height="7.4"/><rect x="0.9" y="11.1" width="4.2" height="5.8"/><rect x="6.9" y="11.1" width="4.1" height="5.8"/><rect x="12.9" y="11.1" width="4.1" height="5.8"/><g opacity="0.55"><rect x="2.8" y="9.1" width="12.4" height="0.8"/><rect x="8.5" y="8" width="0.9" height="3.2"/><rect x="2.8" y="9.1" width="0.8" height="2.1"/><rect x="14.4" y="9.1" width="0.8" height="2.1"/></g></g></svg>
<span class="t" style="top:250.84px;font-size:12px;color:#fff;letter-spacing:-0.043px;left:1392.6px;width:600px;text-align:center;">Wybierz stronę do edycji</span>
<div class="r" style="left:1484px;top:280px;width:399px;height:401px;background:#454545;"></div>
<span class="t" style="top:299.75px;font-size:14px;color:#fff;letter-spacing:-0.017px;left:1383.6px;width:600px;text-align:center;">Strona główna</span>
<div class="r" style="left:1484px;top:330.5px;width:399.00px;height:1.20px;background:#333;"></div>
<span class="t" style="top:350.75px;font-size:14px;color:#4189d2;letter-spacing:-0.212px;left:1383.6px;width:600px;text-align:center;">O nas</span>
<div class="r" style="left:1484px;top:381.5px;width:399.00px;height:1.20px;background:#333;"></div>
<span class="t" style="top:401.75px;font-size:14px;color:#4189d2;letter-spacing:0.166px;left:1383.6px;width:600px;text-align:center;">Oferta</span>
<div class="r" style="left:1484px;top:432.5px;width:399.00px;height:1.20px;background:#333;"></div>
<span class="t" style="top:452.75px;font-size:14px;color:#4189d2;letter-spacing:0.117px;left:1383.6px;width:600px;text-align:center;">Kontakt</span>
<div class="r" style="left:1484px;top:483.5px;width:399.00px;height:1.20px;background:#333;"></div>
<span class="t" style="top:503.75px;font-size:14px;color:#4189d2;letter-spacing:-0.282px;left:1383.6px;width:600px;text-align:center;">Regulamin</span>
<div class="r" style="left:1484px;top:534.5px;width:399.00px;height:1.20px;background:#333;"></div>
<span class="t" style="top:554.75px;font-size:14px;color:#4189d2;letter-spacing:-0.072px;left:1383.6px;width:600px;text-align:center;">Aktualności</span>
<div class="r" style="left:1484px;top:585.5px;width:399.00px;height:1.20px;background:#333;"></div>
<span class="t" style="top:605.75px;font-size:14px;color:#4189d2;letter-spacing:-0.007px;left:1383.6px;width:600px;text-align:center;">Formy płatności</span>
<div class="r" style="left:1484px;top:636.5px;width:399.00px;height:1.20px;background:#333;"></div>
<span class="t" style="top:656.75px;font-size:14px;color:#4189d2;letter-spacing:-0.096px;left:1383.6px;width:600px;text-align:center;">Polityka prywatności</span>
<div class="r" style="left:1883px;top:280px;width:14.00px;height:401.00px;background:#f0f0f0;"></div>
<div class="r" style="left:1884px;top:298px;width:13.00px;height:221.50px;background:#cdcdcd;"></div>
<svg style="left:1883px;top:283px" width="14" height="12" viewBox="0 0 14 12"><path d="M5.3 9.6 L8.6 5.2 L11.9 9.6" fill="none" stroke="#484848" stroke-width="2"/></svg>
<svg style="left:1883px;top:667px" width="14" height="12" viewBox="0 0 14 12"><path d="M5.3 3.6 L8.6 8 L11.9 3.6" fill="none" stroke="#484848" stroke-width="2"/></svg>
<div class="r" style="left:1484px;top:280px;width:413px;height:17px;background:linear-gradient(#272727 0,#272727 6%,rgba(39,39,39,.55) 35%,rgba(39,39,39,0) 100%)"></div>
<div class="r" style="left:1484px;top:681px;width:413.00px;height:66.00px;background:#272727;"></div>
<span class="t" style="top:700.44px;font-size:12px;color:#4189d2;letter-spacing:-0.142px;left:1391.8px;width:600px;text-align:center;">Samouczek vendero</span>
<span class="t" style="top:717.44px;font-size:12px;color:#fff;letter-spacing:-0.336px;left:1391.8px;width:600px;text-align:center;">Jak zarządzać zawartością strony?</span>
<svg style="left:0;top:0" width="1897" height="860" viewBox="0 0 1897 860">
<defs><filter id="ds" x="-5%" y="-5%" width="110%" height="115%"><feDropShadow dx="2.5" dy="3" stdDeviation="2.2" flood-color="#000" flood-opacity="0.55"/></filter></defs>
<g filter="url(#ds)" fill="#ff0000" stroke="none">
<polygon points="179,446.6 1551.8,199 1547.6,193.6 1574,200.4 1551,217.2 1553.6,210.6 179,448.6"/>
<polygon points="1620.5,307.2 876.5,712.7 875.5,707.6 858.8,730 886,726.6 881.9,723.7 1620.5,309.2"/>
<polygon points="1611,231 1669.4,267.4 1672.6,262.6 1684,287.2 1656.6,280.2 1661,276.4 1609.6,232"/>
<polygon points="99,383 116.3,409.8 120.8,405.2 118.6,434 99.3,414 104.6,414 98.6,383.4"/>
</g>
<g filter="url(#ds)" fill="none" stroke="#ff0000" stroke-width="2.2">
<rect x="55" y="348" width="102.5" height="34.4" rx="5.5"/>
<rect x="55" y="433.4" width="124" height="27" rx="5.5"/>
<rect x="1574.8" y="175.4" width="69.6" height="54.6" rx="6"/>
<rect x="1621" y="290.8" width="123.6" height="32.4" rx="5.5"/>
<rect x="828" y="732.2" width="58.4" height="22.4" rx="5"/>
</g></svg>
</body></html>
